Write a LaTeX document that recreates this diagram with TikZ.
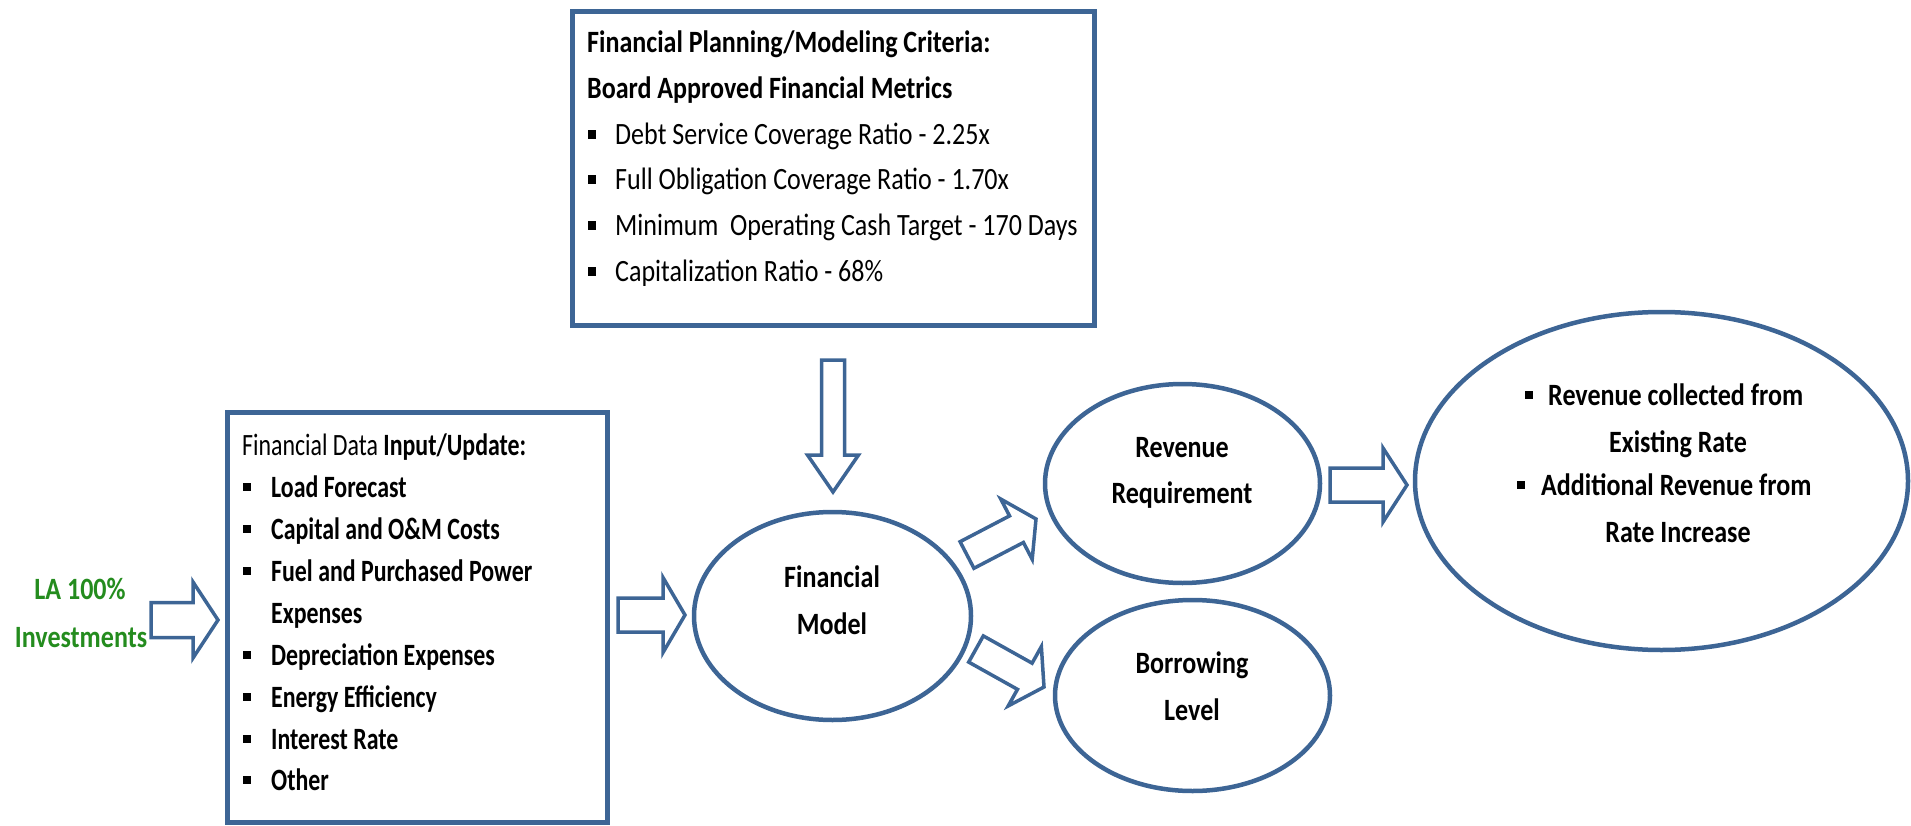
\documentclass[tikz,border=0pt]{standalone}
\usepackage{fontspec}
\setmainfont{Carlito}
\newfontfamily\headfont{Carlito}[FakeStretch=0.84]
\newfontfamily\listfont{Carlito}[FakeStretch=0.77]
\usetikzlibrary{calc,shapes.geometric}

\definecolor{edge}{RGB}{61,101,149}
\definecolor{leafgreen}{RGB}{36,140,30}

% small square list marker
\newcommand\sqbullet{\raisebox{6pt}{\rule{7.5pt}{8.5pt}}}

% hollow block arrow from tail #1 to tip #2;
% #3 shaft half width, #4 head half width, #5 head length
\newcommand\blockarrow[5]{%
  \draw[hollowarrow] let \p1=(#1), \p2=(#2),
      \n1={atan2(\y2-\y1,\x2-\x1)},
      \n2={veclen(\x2-\x1,\y2-\y1)},
      \n3={\n2-#5} in
    ($(\p1)+({\n1+90}:#3)$)
    -- ($(\p1)+(\n1:\n3)+({\n1+90}:#3)$)
    -- ($(\p1)+(\n1:\n3)+({\n1+90}:#4)$)
    -- (\p2)
    -- ($(\p1)+(\n1:\n3)+({\n1-90}:#4)$)
    -- ($(\p1)+(\n1:\n3)+({\n1-90}:#3)$)
    -- ($(\p1)+({\n1-90}:#3)$)
    -- cycle;}

\tikzset{
  panel/.style={draw=edge, line width=5pt, fill=white, inner sep=0pt},
  oval/.style={ellipse, draw=edge, line width=4.5pt, fill=white, inner sep=0pt},
  hollowarrow/.style={draw=edge, line width=3.5pt, fill=white, line join=miter},
  crit/.style={anchor=base west, inner sep=0pt, font=\headfont\fontsize{31}{36}\selectfont},
  critbold/.style={crit, font=\headfont\bfseries\fontsize{31}{36}\selectfont},
  datum/.style={anchor=base west, inner sep=0pt, font=\listfont\bfseries\fontsize{31}{36}\selectfont},
  caption/.style={anchor=base, inner sep=0pt, font=\headfont\bfseries\fontsize{31}{36}\selectfont},
  captionwest/.style={caption, anchor=base west},
}

\begin{document}
\begin{tikzpicture}[x=1pt,y=1pt]
\useasboundingbox (0,0) rectangle (1911,-826);

% ---- boxes and ovals ----
\node[panel, minimum width=522pt, minimum height=314pt] (criteria) at (833.5,-168.5) {};
\node[panel, minimum width=380pt, minimum height=410pt] (inputs) at (417.5,-617.5) {};
\node[oval, minimum width=277pt, minimum height=208pt] (model) at (832.5,-616) {};
\node[oval, minimum width=275pt, minimum height=199pt] (revreq) at (1182.5,-483.5) {};
\node[oval, minimum width=275pt, minimum height=191pt] (borrow) at (1192.5,-695.5) {};
\node[oval, minimum width=493pt, minimum height=338pt] (revenue) at (1661.5,-481) {};

% ---- criteria box text ----
\node[critbold] (crit-title) at (587,-53) {Financial Planning/Modeling Criteria:};
\node[critbold] (crit-sub) at (587,-99) {Board Approved Financial Metrics};
\node[crit] (crit-a) at (588,-145) {\makebox[27pt][l]{\sqbullet}Debt Service Coverage Ratio - 2.25x};
\node[crit] (crit-b) at (588,-190) {\makebox[27pt][l]{\sqbullet}Full Obligation Coverage Ratio - 1.70x};
\node[crit] (crit-c) at (588,-236) {\makebox[27pt][l]{\sqbullet}Minimum\ \ Operating Cash Target - 170 Days};
\node[crit] (crit-d) at (588,-282) {\makebox[27pt][l]{\sqbullet}Capitalization Ratio - 68\%};

% ---- input box text ----
\node[datum] (in-title) at (242,-455) {{\mdseries Financial Data} Input/Update:};
\node[datum] (in-a) at (243,-497) {\makebox[28pt][l]{\sqbullet}Load Forecast};
\node[datum] (in-b) at (243,-539) {\makebox[28pt][l]{\sqbullet}Capital and O\&M Costs};
\node[datum] (in-c) at (243,-581) {\makebox[28pt][l]{\sqbullet}Fuel and Purchased Power};
\node[datum] (in-c2) at (271,-623) {Expenses};
\node[datum] (in-d) at (243,-665) {\makebox[28pt][l]{\sqbullet}Depreciation Expenses};
\node[datum] (in-e) at (243,-707) {\makebox[28pt][l]{\sqbullet}Energy Efficiency};
\node[datum] (in-f) at (243,-749) {\makebox[28pt][l]{\sqbullet}Interest Rate};
\node[datum] (in-g) at (243,-790) {\makebox[28pt][l]{\sqbullet}Other};

% ---- source label ----
\node[caption, text=leafgreen] (src-a) at (80,-599) {LA 100\%};
\node[caption, text=leafgreen] (src-b) at (81,-647) {Investments};

% ---- oval captions ----
\node[caption] (model-a) at (832,-587) {Financial};
\node[caption] (model-b) at (832,-634) {Model};
\node[caption] (revreq-a) at (1182,-457) {Revenue};
\node[caption] (revreq-b) at (1182,-503) {Requirement};
\node[caption] (borrow-a) at (1192,-673) {Borrowing};
\node[caption] (borrow-b) at (1192,-720) {Level};
\node[captionwest] (rev-a) at (1525,-405) {\makebox[23pt][l]{\sqbullet}Revenue collected from};
\node[caption] (rev-b) at (1678,-452) {Existing Rate};
\node[captionwest] (rev-c) at (1517,-495) {\makebox[24pt][l]{\sqbullet}Additional Revenue from};
\node[caption] (rev-d) at (1678,-542) {Rate Increase};

% ---- arrow end points ----
\coordinate (src-out) at (151,-620);
\coordinate (inputs-in) at (218,-620);
\coordinate (inputs-out) at (618,-615);
\coordinate (model-in) at (685,-615);
\coordinate (criteria-out) at (833,-360);
\coordinate (model-top) at (833,-492);
\coordinate (model-ne) at (967,-555);
\coordinate (revreq-in) at (1036,-519);
\coordinate (model-se) at (976,-649);
\coordinate (borrow-in) at (1044,-687);
\coordinate (revreq-out) at (1330,-485);
\coordinate (revenue-in) at (1407,-485);

% ---- block arrows ----
\blockarrow{src-out}{inputs-in}{17.5}{38}{25}
\blockarrow{inputs-out}{model-in}{17}{37.5}{22}
\blockarrow{criteria-out}{model-top}{11.5}{25.5}{37}
\blockarrow{model-ne}{revreq-in}{15}{34}{22}
\blockarrow{model-se}{borrow-in}{15}{34}{22}
\blockarrow{revreq-out}{revenue-in}{17}{37}{24}

\end{tikzpicture}
\end{document}
